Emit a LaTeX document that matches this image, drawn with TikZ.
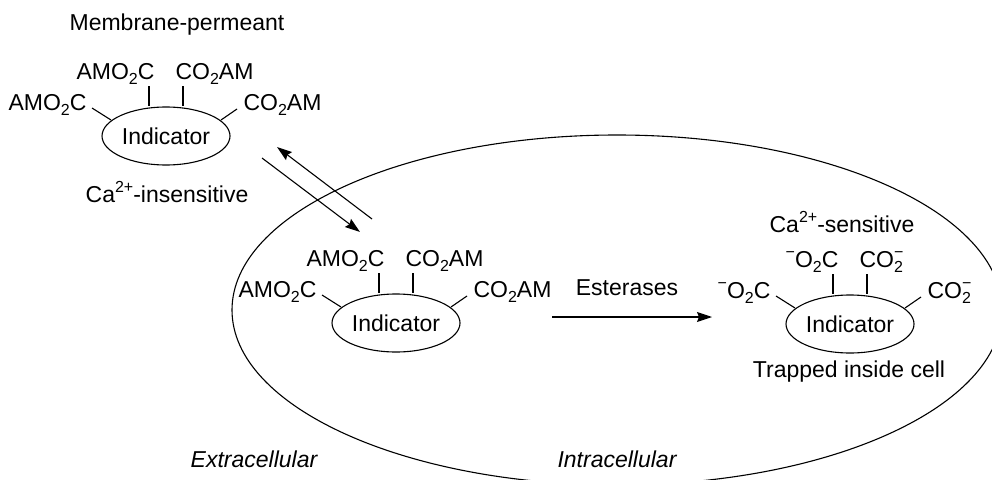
\documentclass[tikz,border=0pt]{standalone}
\usepackage{fontspec}
\setmainfont{Liberation Sans}
\usetikzlibrary{arrows.meta,shapes.geometric}
% lowered subscript and raised superscript for formulae
\newcommand\chsub[1]{\raisebox{-0.26em}{\fontsize{16}{16}\selectfont #1}}
\newcommand\chsup[1]{\raisebox{0.42em}{\fontsize{16}{16}\selectfont #1}}
% chemical fragments
\newcommand\amoc{AMO\chsub{2}C}
\newcommand\coam{CO\chsub{2}AM}
\newcommand\ooc{\chsup{−}O\chsub{2}C}
\newcommand\coo{CO\rlap{\chsup{−}}\chsub{2}}
% indicator ellipse with its four ester/carboxylate arms
% #1 name, #2 centre, #3 top-left, #4 top-right, #5 left, #6 right
\newcommand\indgroup[6]{%
  \begin{scope}[shift={#2}]
    \node[ind] (#1) at (0,0) {Indicator};
    \node[lbl, anchor=base east] (#1-tl) at (-11,-57) {#3};
    \node[lbl, anchor=base west] (#1-tr) at (9,-57) {#4};
    \node[lbl, anchor=base east] (#1-l) at (-79,-26) {#5};
    \node[lbl, anchor=base west] (#1-r) at (77,-26) {#6};
    \coordinate (#1-v1) at (-17,-50);
    \coordinate (#1-v2) at (17,-50);
    \coordinate (#1-d1a) at (-74,-28);
    \coordinate (#1-d1b) at (-55,-16);
    \coordinate (#1-d2a) at (71,-27);
    \coordinate (#1-d2b) at (55,-16);
    \draw (#1-v1) -- (#1-v1 |- #1.north);
    \draw (#1-v2) -- (#1-v2 |- #1.north);
    \draw (#1-d1a) -- (#1-d1b);
    \draw (#1-d2a) -- (#1-d2b);
  \end{scope}}
\begin{document}
\begin{tikzpicture}[x=1pt, y=-1pt,
  font=\fontsize{23}{27}\selectfont, line width=1.1pt,
  lbl/.style={inner sep=0pt},
  ind/.style={draw, ellipse, minimum width=128pt, minimum height=58pt, inner sep=0pt},
  arr/.style={-{Stealth[length=15pt, width=10pt, inset=2pt]}}]
\useasboundingbox (0,0) rectangle (992,479);

% cell membrane
\draw (617,310) ellipse [x radius=385, y radius=175];

% free AM ester outside the cell
\node[lbl, anchor=base] (perm) at (177,30) {Membrane-permeant};
\indgroup{outer}{(166,136)}{\amoc}{\coam}{\amoc}{\coam}
\node[lbl, anchor=base] (insens) at (167,202) {Ca\chsup{2+}-insensitive};

% loaded ester inside the cell
\indgroup{inner}{(396,323)}{\amoc}{\coam}{\amoc}{\coam}

% hydrolysed indicator
\node[lbl, anchor=base] (sens) at (842,232) {Ca\chsup{2+}-sensitive};
\indgroup{free}{(850,324)}{\ooc}{\coo}{\ooc}{\coo}
\node[lbl, anchor=base] (trap) at (849,377) {Trapped inside cell};

% diffusion across the membrane
\coordinate (up1) at (372,219);
\coordinate (up2) at (277,147);
\coordinate (dn1) at (262,158);
\coordinate (dn2) at (360,232);
\draw[arr] (up1) -- (up2);
\draw[arr] (dn1) -- (dn2);

% ester cleavage
\node[lbl, anchor=base] (est) at (627,295) {Esterases};
\coordinate (es1) at (552,317);
\coordinate (es2) at (712,317);
\draw[arr] (es1) -- (es2);

% compartments
\node[lbl, anchor=base] (extra) at (254,467) {\itshape Extracellular};
\node[lbl, anchor=base] (intra) at (617,467) {\itshape Intracellular};
\end{tikzpicture}
\end{document}
